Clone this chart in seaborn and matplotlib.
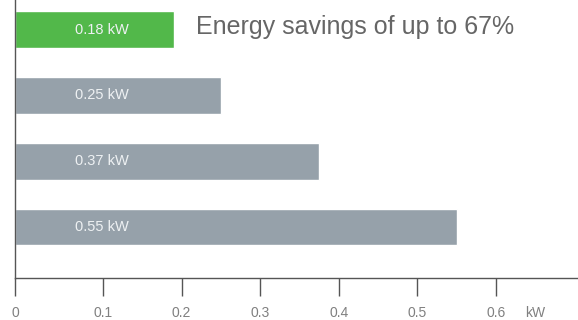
import matplotlib
matplotlib.use('Agg')
import matplotlib.pyplot as plt
import seaborn as sns
import pandas as pd

# bar ends read against the 0.1 ... 0.6 ticks, and the printed labels
motors = ['new', 'old_1', 'old_2', 'old_3']
drawn_kw = [0.19, 0.25, 0.375, 0.55]
bar_labels = ['0.18 kW', '0.25 kW', '0.37 kW', '0.55 kW']
bar_colors = ['#52b84a', '#96a1aa', '#96a1aa', '#96a1aa']
x_ticks = [0.1, 0.2, 0.3, 0.4, 0.5, 0.6]
x_ticklabels = ['0.1', '0.2', '0.3', '0.4', '0.5', '0.6']
title = 'Energy savings of up to 67%'

df = pd.DataFrame({'motor': motors, 'kw': drawn_kw})

sns.set_style('white')
plt.rcParams['font.family'] = ['Liberation Sans', 'DejaVu Sans']

fig = plt.figure(figsize=(5.78, 3.2), dpi=100)
ax = fig.add_axes([15 / 578, 1 - 278 / 320, 1 - 15 / 578, 278 / 320])

sns.barplot(data=df, x='kw', y='motor', hue='motor', palette=bar_colors,
            orient='h', width=0.558, legend=False, ax=ax, saturation=1)

x0 = -0.012
ax.set_xlim(x0, 0.7043)
ax.set_ylim(3.775, -0.45)

# bars grow from the axis line
for p in ax.patches:
    w = p.get_x() + p.get_width()
    p.set_x(x0)
    p.set_width(w - x0)

# labels inside the bars
for i, lab in enumerate(bar_labels):
    ax.text(0.0644, i, lab, color='#eef1f3', fontsize=10.5, va='center', ha='left')

ax.text(0.2183, -0.04, title, color='#666666', fontsize=18, va='center', ha='left')

sns.despine(ax=ax, top=True, right=True)
for s in ['left', 'bottom']:
    ax.spines[s].set_color('#555555')
    ax.spines[s].set_linewidth(1)

ax.set_yticks([])
# the zero tick sits on the axis line
ax.set_xticks([x0] + x_ticks)
ax.set_xticklabels(['0'] + x_ticklabels, color='#808080', fontsize=10)
ax.tick_params(axis='x', bottom=True, length=13, width=1, color='#555555', pad=7.5, direction='out')
ax.set_xlabel('')
ax.set_ylabel('')

ax.annotate('kW', xy=(0.65, 0), xycoords=('data', 'axes fraction'),
            xytext=(0, -25.5), textcoords='offset points',
            ha='center', va='center', color='#808080', fontsize=10)

fig.savefig('out.png', dpi=100)
